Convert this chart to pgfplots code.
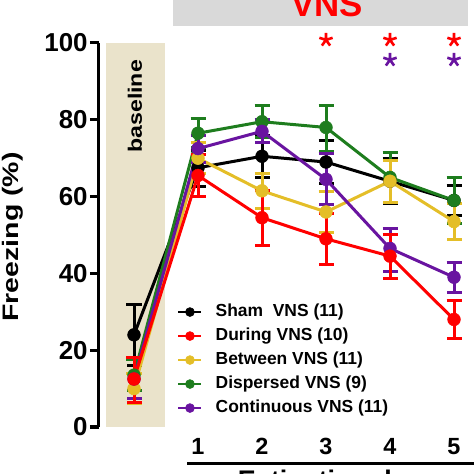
\documentclass[border=0pt]{standalone}
\usepackage{pgfplots}
\pgfplotsset{compat=1.18}
\usepackage{pgfplotstable}
\usepackage{fontspec}
\setmainfont{Liberation Sans}
\usepackage{graphicx}
\definecolor{cBeige}{RGB}{234,227,203}
\definecolor{cGray}{RGB}{217,217,217}
\definecolor{cRed}{RGB}{255,0,0}
\definecolor{cYel}{RGB}{228,190,40}
\definecolor{cGrn}{RGB}{30,125,30}
\definecolor{cPur}{RGB}{105,20,160}

\pgfplotstableread{
x y ep em
0 24 8 8
1 67.5 4.5 5
2 70.5 5.5 5.5
3 69 5.7 5.7
4 64 6 5.8
5 59 4 4
}\sham
\pgfplotstableread{
x y ep em
0 12.5 5.5 6
1 65.5 5.5 5.4
2 54.5 7 7.2
3 49 6.7 6.6
4 44.5 5.5 5.7
5 28 5 5
}\during
\pgfplotstableread{
x y ep em
0 10 4 4
1 70 4 4
2 61.5 4.5 4.5
3 56 5.3 5.3
4 64 5.5 5.5
5 53.5 4.8 4.8
}\between
\pgfplotstableread{
x y ep em
0 13.5 4 4
1 76.5 3.8 3.8
2 79.5 4.2 4.2
3 78 5.8 6.2
4 65 6.6 6.6
5 59 6 6
}\dispersed
\pgfplotstableread{
x y ep em
0 12.5 5.5 5
1 72.5 3.5 3.5
2 77 3 3
3 64.5 6.6 6.6
4 46.5 5.2 6
5 39 3.8 4
}\continuous

\pgfplotsset{
  dat/.style={forget plot, color=#1, line width=3bp, mark=*, mark size=6.4bp,
    mark options={solid, line width=0.5bp},
    error bars/.cd, y dir=both, y explicit,
    error bar style={line width=3bp, color=#1},
    error mark options={rotate=90, mark size=7.5bp, line width=3bp, color=#1}},
  leg/.style={color=#1, line width=2.5bp, mark=*, mark size=4.5bp, mark options={solid, line width=0.5bp}},
}

\begin{document}
\begin{tikzpicture}
\useasboundingbox (0,0) rectangle (474bp,474bp);
\clip (0,0) rectangle (474bp,474bp);
\begin{axis}[
  at={(98.8bp,47bp)}, anchor=south west,
  scale only axis, width=377.6bp, height=384bp,
  xmin=-0.55, xmax=5.35, ymin=0, ymax=100,
  clip=false,
  axis x line*=bottom, axis y line*=left,
  x axis line style={draw=none},
  y axis line style={line width=3bp},
  xtick={1,2,3,4,5}, ytick={0,20,40,60,80,100},
  xtick style={draw=none},
  ytick style={line width=3bp, black},
  tick align=outside, major tick length=9bp,
  /pgf/number format/assume math mode=true,
  yticklabel style={font=\fontsize{26}{26}\selectfont\bfseries, inner sep=2bp},
  xticklabel style={font=\fontsize{23.5}{23.5}\selectfont\bfseries, inner sep=0pt, yshift=-2bp},
  legend style={at={(axis cs:0.672,32.2)}, anchor=north west, draw=none, fill=none,
    inner sep=0pt, font=\fontsize{17.5}{17.5}\selectfont\bfseries, row sep=7bp,
    nodes={inner sep=0pt, text height=13bp, text depth=4bp}, column sep=13bp},
  legend cell align=left,
  legend image code/.code={\draw[mark repeat=2, mark phase=2, #1] plot coordinates {(0bp,0bp) (11.5bp,0bp) (23bp,0bp)};},
]
\fill[cBeige] (axis cs:-0.4375,0) rectangle (axis cs:0.484,100);
\fill[cGray] (axis cs:0.61,104.4) rectangle (axis cs:5.22,125);
\node[anchor=base, text=cRed, font=\fontsize{35}{35}\selectfont\bfseries] at (axis cs:3.02,107) {VNS};
\node[rotate=90, font=\fontsize{19.5}{19.5}\selectfont\bfseries] at (axis cs:0.016,83.5) {\scalebox{1.19}[1]{baseline}};
\node[rotate=90, font=\fontsize{22.5}{22.5}\selectfont\bfseries] at (rel axis cs:-0.2286,0.495) {\scalebox{1.27}[1]{Freezing (\%)}};
\draw[line width=3bp] (axis cs:0.83,-9.375) -- (axis cs:5.6,-9.375);
\node[anchor=base, font=\fontsize{27}{27}\selectfont\bfseries] at (axis cs:3.06,-16.4) {Extinction day};

\addplot[dat=black] table[x=x, y=y, y error plus=ep, y error minus=em] {\sham};
\addplot[dat=cGrn] table[x=x, y=y, y error plus=ep, y error minus=em] {\dispersed};
\addplot[dat=cYel] table[x=x, y=y, y error plus=ep, y error minus=em] {\between};
\addplot[dat=cPur] table[x=x, y=y, y error plus=ep, y error minus=em] {\continuous};
\addplot[dat=cRed] table[x=x, y=y, y error plus=ep, y error minus=em] {\during};

\addplot[forget plot, only marks, mark=star, mark size=7bp, cRed, mark options={line width=2.6bp}] coordinates {(3,100.8) (4,100.8) (5,100.8)};
\addplot[forget plot, only marks, mark=star, mark size=7bp, cPur, mark options={line width=2.6bp}] coordinates {(4,95.6) (5,95.6)};

\addlegendimage{leg=black}
\addlegendentry{Sham\ \ VNS (11)}
\addlegendimage{leg=cRed}
\addlegendentry{During VNS (10)}
\addlegendimage{leg=cYel}
\addlegendentry{Between VNS (11)}
\addlegendimage{leg=cGrn}
\addlegendentry{Dispersed VNS (9)}
\addlegendimage{leg=cPur}
\addlegendentry{Continuous VNS (11)}
\end{axis}
\end{tikzpicture}
\end{document}
